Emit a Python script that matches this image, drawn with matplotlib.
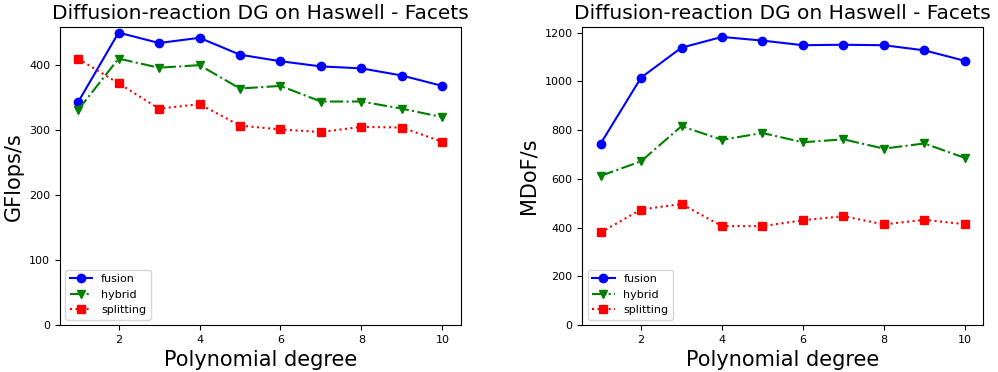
import matplotlib
matplotlib.use("Agg")
import matplotlib.pyplot as plt

degrees = [1, 2, 3, 4, 5, 6, 7, 8, 9, 10]

gflops_fusion = [343, 450, 434, 442, 416, 406, 398, 395, 384, 368]
gflops_hybrid = [331, 410, 396, 400, 364, 368, 344, 344, 333, 320]
gflops_splitting = [410, 372, 333, 340, 307, 301, 297, 305, 304, 282]

mdof_fusion = [744, 1015, 1138, 1182, 1167, 1148, 1150, 1148, 1127, 1084]
mdof_hybrid = [612, 672, 816, 760, 788, 750, 762, 724, 745, 686]
mdof_splitting = [380, 474, 497, 406, 406, 430, 447, 413, 432, 414]

title = "Diffusion-reaction DG on Haswell - Facets"


def draw(ax, fusion, hybrid, splitting, ylabel):
    ax.plot(degrees, fusion, "b-o", label="fusion")
    ax.plot(degrees, hybrid, "g-.v", label="hybrid")
    ax.plot(degrees, splitting, "r:s", label="splitting")
    ax.set_ylim(bottom=0)
    ax.set_title(title, fontsize=14.5)
    ax.set_xlabel("Polynomial degree", fontsize=15)
    ax.set_ylabel(ylabel, fontsize=15)
    ax.tick_params(labelsize=8)
    ax.legend(loc="lower left", fontsize=8)


fig, (ax1, ax2) = plt.subplots(1, 2, figsize=(9.98, 3.72), dpi=100)
draw(ax1, gflops_fusion, gflops_hybrid, gflops_splitting, "GFlops/s")
draw(ax2, mdof_fusion, mdof_hybrid, mdof_splitting, "MDoF/s")
fig.subplots_adjust(left=0.060, right=0.985, top=0.927, bottom=0.126, wspace=0.304)
fig.savefig("out.png", dpi=100)
